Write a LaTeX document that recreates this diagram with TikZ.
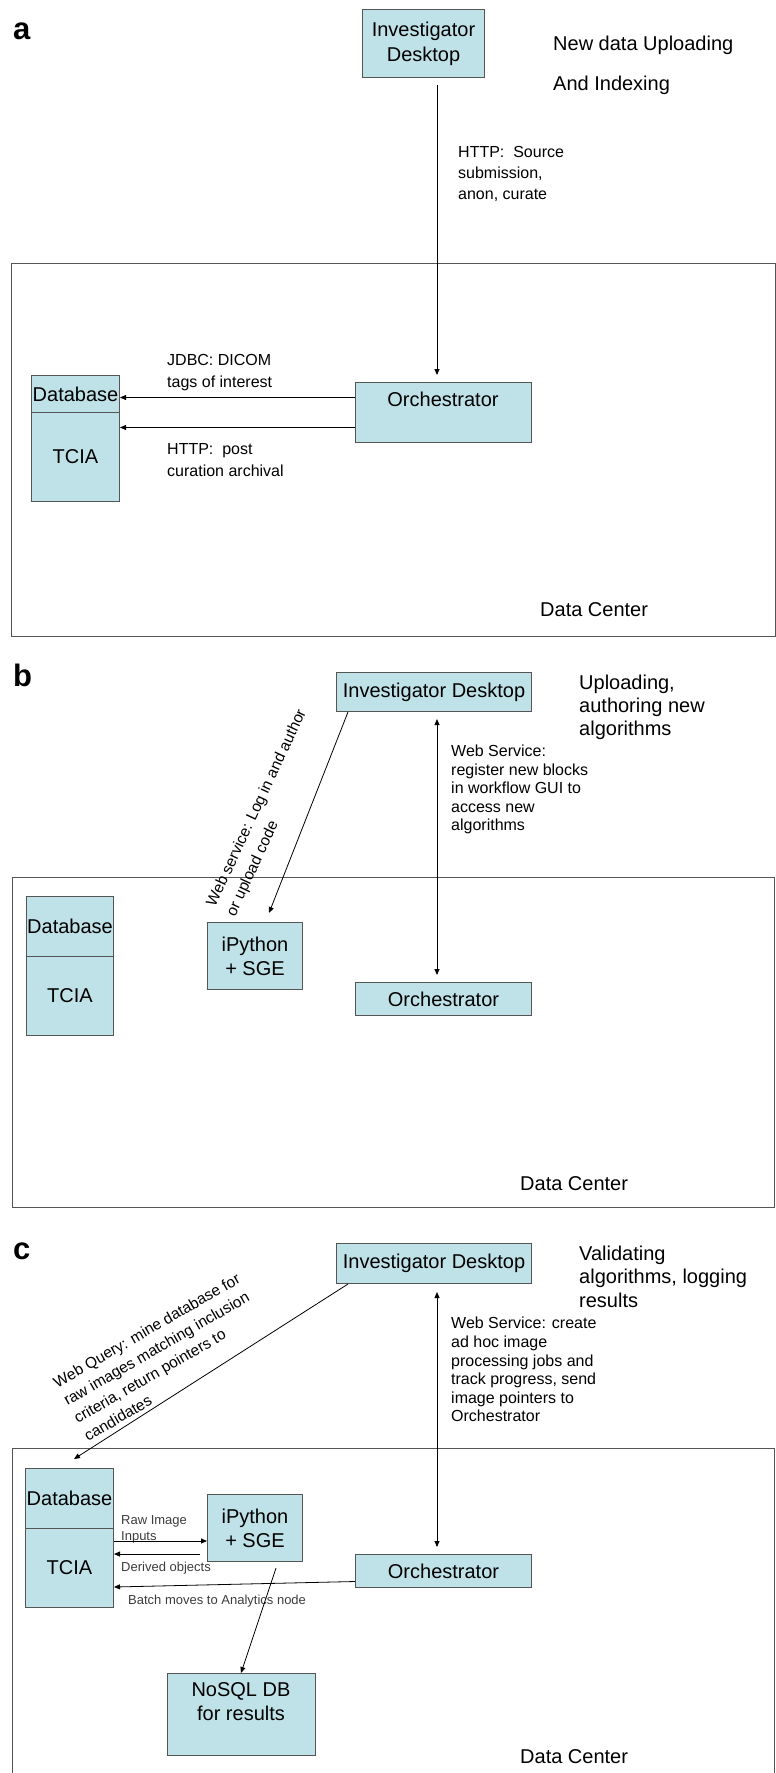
\documentclass[tikz,border=0pt]{standalone}
\usepackage{fontspec}
\setmainfont{Liberation Sans}
\usetikzlibrary{arrows.meta,calc}
\definecolor{boxfill}{RGB}{191,226,232}
\definecolor{framecol}{RGB}{85,85,85}
\definecolor{smallcol}{RGB}{60,60,60}
\begin{document}
\begin{tikzpicture}[x=1pt,y=-1pt,
  box/.style={draw=framecol, line width=1pt, fill=boxfill, inner sep=0pt, anchor=north west},
  frame/.style={draw=framecol, line width=1.2pt, inner sep=0pt, anchor=north west},
  big/.style={font=\fontsize{20}{24}\selectfont},
  conn/.style={draw=black, line width=0.8pt},
  arr/.style={conn, -{Triangle[length=6pt,width=5pt]}},
  arrboth/.style={conn, {Triangle[length=6pt,width=5pt]}-{Triangle[length=6pt,width=5pt]}},
  txt/.style={inner sep=0pt, anchor=north west, align=left},
  panel/.style={inner sep=0pt, anchor=base west, font=\fontsize{31}{31}\selectfont\bfseries},
  small/.style={inner sep=0pt, text=smallcol, font=\fontsize{13}{16}\selectfont}
]
\useasboundingbox (0,0) rectangle (776,1773);
\coordinate (xa) at (437,0);

% ---------------- panel a ----------------
\node[panel] (la) at (13,39) {a};
\node[box, minimum width=122, minimum height=68, align=center, font=\fontsize{20}{25}\selectfont] (inva) at (362,9) {Investigator\\Desktop};
\node[txt, font=\fontsize{20}{40}\selectfont] (titlea) at (553,35.4) {New data Uploading\\And Indexing};
\node[frame, minimum width=764, minimum height=373] (dca) at (11,263) {};
\node[box, minimum width=176, minimum height=60] (orcha) at (355,382) {};
\node[big, inner sep=0pt, anchor=base] (orchat) at (443,406) {Orchestrator};
\node[box, minimum width=88, minimum height=37, big] (dba) at (31,375) {Database};
\node[box, minimum width=88, minimum height=89, big] (tciaa) at (31,412) {TCIA};
\node[txt, font=\fontsize{16}{21}\selectfont] (lhttp) at (458,146) {HTTP:\ \ Source\\submission,\\anon, curate};
\node[txt, font=\fontsize{16}{22}\selectfont] (ljdbc) at (167,354) {JDBC: DICOM\\tags of interest};
\node[txt, font=\fontsize{16}{22}\selectfont] (lpost) at (167,443) {HTTP:\ \ post\\curation archival};
\node[big, inner sep=0pt, anchor=base west] (dclaba) at (540,616) {Data Center};
\draw[arr] ($(inva.south -| xa)+(0,7)$) -- ($(orcha.north -| xa)+(0,-7)$);
\draw[arr] ($(orcha.west)+(0,-15)$) -- ($(orcha.west -| dba.east)+(0,-15)$);
\draw[arr] ($(orcha.west)+(0,15)$) -- ($(orcha.west -| tciaa.east)+(0,15)$);

% ---------------- panel b ----------------
\node[panel] (lb) at (13,686) {b};
\node[box, minimum width=195, minimum height=39, big] (invb) at (336,672) {Investigator Desktop};
\node[txt, font=\fontsize{20}{23}\selectfont] (titleb) at (579,674.4) {Uploading,\\authoring new\\algorithms};
\node[frame, minimum width=762, minimum height=330] (dcb) at (12,877) {};
\node[box, minimum width=87, minimum height=60, big] (dbb) at (26,896) {Database};
\node[box, minimum width=87, minimum height=79, big] (tciab) at (26,956) {TCIA};
\node[box, minimum width=95, minimum height=67, align=center, font=\fontsize{20}{24}\selectfont] (ipyb) at (207,922) {iPython\\+ SGE};
\node[box, minimum width=176, minimum height=33, big] (orchb) at (355,982) {Orchestrator};
\node[big, inner sep=0pt, anchor=base west] (dclabb) at (520,1190) {Data Center};
\node[inner sep=0pt, rotate=65, align=left, font=\fontsize{15.5}{22}\selectfont] (lwsb) at (267,813) {Web service: Log in and author\\or upload code};
\node[txt, font=\fontsize{16}{18.5}\selectfont] (lregb) at (451,744.8) {Web Service:\\register new blocks\\in workflow GUI to\\access new\\algorithms};
\draw[arr] ($(invb.south west)+(12,0)$) -- ($(ipyb.north west)+(62,-9)$);
\draw[arrboth] ($(invb.south -| xa)+(0,7)$) -- ($(orchb.north -| xa)+(0,-7)$);

% ---------------- panel c ----------------
\node[panel] (lc) at (13,1259) {c};
\node[box, minimum width=195, minimum height=40, big] (invc) at (336,1243) {Investigator Desktop};
\node[txt, font=\fontsize{20}{23.5}\selectfont] (titlec) at (579,1245.4) {Validating\\algorithms, logging\\results};
\node[frame, minimum width=762, minimum height=340] (dcc) at (12,1448) {};
\node[box, minimum width=88, minimum height=60, big] (dbc) at (25,1468) {Database};
\node[box, minimum width=88, minimum height=79, big] (tciac) at (25,1528) {TCIA};
\node[box, minimum width=95, minimum height=67, align=center, font=\fontsize{20}{24}\selectfont] (ipyc) at (207,1494) {iPython\\+ SGE};
\node[box, minimum width=176, minimum height=33, big] (orchc) at (355,1554) {Orchestrator};
\node[box, minimum width=148, minimum height=82] (nosql) at (167,1673) {};
\node[inner sep=0pt, anchor=north, align=center, font=\fontsize{20}{24}\selectfont] (nosqlt) at (241,1682.5) {NoSQL DB\\for results};
\node[big, inner sep=0pt, anchor=base west] (dclabc) at (520,1763) {Data Center};
\node[inner sep=0pt, rotate=30, align=left, font=\fontsize{15.5}{20.5}\selectfont] (lwq) at (162,1357) {Web Query: mine database for\\raw images matching inclusion\\criteria, return pointers to\\candidates};
\node[txt, font=\fontsize{16}{18.6}\selectfont] (lcreate) at (451,1317) {Web Service: create\\ad hoc image\\processing jobs and\\track progress, send\\image pointers to\\Orchestrator};
\node[small, anchor=north west, align=left] (lraw) at (121,1515) {Raw Image\\Inputs};
\node[small, anchor=base west] (lder) at (121,1571) {Derived objects};
\node[small, anchor=base west] (lbatch) at (128,1604) {Batch moves to Analytics node};
\draw[arr] ($(invc.south west)+(12,0)$) -- ($(dbc.north west)+(49,-9)$);
\draw[arrboth] ($(invc.south -| xa)+(0,8)$) -- ($(orchc.north -| xa)+(0,-7)$);
\draw[arr] ($(tciac.north east)+(0,13)$) -- ($(tciac.north east -| ipyc.west)+(0,13)$);
\draw[arr] ($(tciac.north east -| ipyc.west)+(-7,26)$) -- ($(tciac.north east)+(0,26)$);
\draw[arr] ($(orchc.west)+(0,10.5)$) -- ($(tciac.north east)+(0,59)$);
\draw[arr] ($(ipyc.south west)+(69,6)$) -- ($(nosql.north west)+(74,0)$);
\end{tikzpicture}
\end{document}
